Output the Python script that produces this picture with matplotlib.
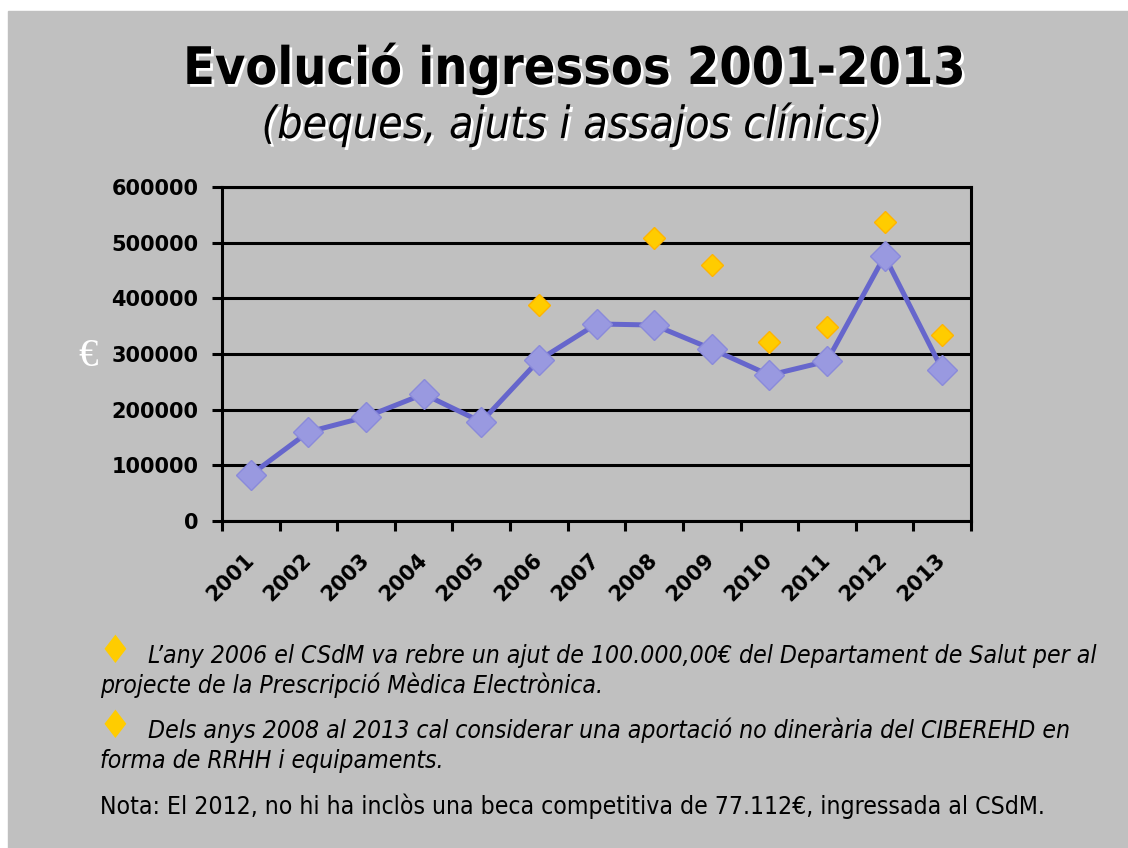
import numpy as np
import matplotlib
matplotlib.use("Agg")
import matplotlib.pyplot as plt
import matplotlib.patheffects as pe
from matplotlib import font_manager
from matplotlib.font_manager import FontProperties
from matplotlib.patches import Rectangle

years = [str(y) for y in range(2001, 2014)]
ingressos = [83000, 160000, 187000, 228000, 178000, 289000, 354000,
             352000, 309000, 262000, 287000, 476000, 272000]
extra_years = ["2006", "2008", "2009", "2010", "2011", "2012", "2013"]
extra_vals = [388000, 508000, 459000, 322000, 348000, 537000, 334000]
yticks = [0, 100000, 200000, 300000, 400000, 500000, 600000]

title = "Evolució ingressos 2001-2013"
subtitle = "(beques, ajuts i assajos clínics)"
note_lines = [
    "L\u2019any 2006 el CSdM va rebre un ajut de 100.000,00\u20ac del Departament de Salut per al",
    "projecte de la Prescripció Mèdica Electrònica.",
    "Dels anys 2008 al 2013 cal considerar una aportació no dinerària del CIBEREHD en",
    "forma de RRHH i equipaments.",
]
nota = "Nota: El 2012, no hi ha inclòs una beca competitiva de 77.112\u20ac, ingressada al CSdM."

W, H = 1128, 848
GRAY = "#C0C0C0"


def narrow_font(style_key, weight, style):
    # look for a condensed / narrow face on disk, fall back to DejaVu Sans
    for f in font_manager.fontManager.ttflist:
        base = f.fname.rsplit("/", 1)[-1].replace(".ttf", "")
        if ("Condensed" in base or "Narrow" in base) and base.endswith(style_key):
            return FontProperties(fname=f.fname)
    return FontProperties(family="DejaVu Sans", weight=weight, style=style)


FP_BOLD = narrow_font("Condensed-Bold", "bold", "normal")
FP_ITAL = narrow_font("Condensed-Oblique", "normal", "italic")
FP_REG = narrow_font("SansCondensed", "normal", "normal")


def px(x, y):
    return x / W, 1 - y / H


def fit_width(t, width_px, renderer):
    w = t.get_window_extent(renderer).width
    t.set_fontsize(t.get_fontsize() * width_px / w)
    return t.get_fontsize()


fig = plt.figure(figsize=(W / 100, H / 100), dpi=100)
fig.patch.set_facecolor("white")
fig.patches.append(Rectangle(px(8, H), 1 - 8 / W, 1 - 11 / H,
                             transform=fig.transFigure, color=GRAY, zorder=-10))

ax = fig.add_axes([222 / W, 1 - 521 / H, (971 - 222) / W, (521 - 187) / H])
ax.set_facecolor(GRAY)

x = np.arange(len(years))
ax.plot(x, ingressos, color="#6666CC", lw=3.6, marker="D", ms=15,
        mfc="#9999E0", mec="#8A8ADA", mew=1, zorder=3)
extra_x = [years.index(y) for y in extra_years]
ax.plot(extra_x, extra_vals, ls="none", marker="D", ms=11,
        mfc="#FFCC00", mec="#FFB400", mew=1, zorder=4)

ax.set_ylim(0, 600000)
ax.set_yticks(yticks)
ax.set_yticklabels([str(v) for v in yticks], fontweight="bold", fontsize=15)
ax.yaxis.grid(True, color="black", lw=2.2)
ax.set_axisbelow(True)
ax.tick_params(axis="y", length=7, width=2.2, pad=10)

ax.set_xlim(-0.5, len(years) - 0.5)
ax.set_xticks(np.arange(len(years) + 1) - 0.5)
ax.set_xticklabels([])
ax.set_xticks(x, minor=True)
ax.set_xticklabels(years, minor=True, rotation=45, ha="right", va="center",
                   rotation_mode="anchor", fontweight="bold", fontsize=15)
ax.tick_params(axis="x", which="major", length=7, width=2.2)
ax.tick_params(axis="x", which="minor", length=0, pad=26)
for s in ax.spines.values():
    s.set_linewidth(2.2)
    s.set_color("black")

fig.text(*px(88, 357), "\u20ac", color="white", fontsize=28,
         family="Liberation Serif", ha="center", va="center")

shadow = [pe.withSimplePatchShadow(offset=(2, -2), shadow_rgbFace="white", alpha=1)]
renderer = fig.canvas.get_renderer()

t = fig.text(*px(574, 84), title, ha="center", va="baseline", fontsize=40,
             fontproperties=FP_BOLD, path_effects=shadow)
fit_width(t, 782, renderer)
t = fig.text(*px(572, 138), subtitle, ha="center", va="baseline", fontsize=30,
             fontproperties=FP_ITAL, path_effects=shadow)
fit_width(t, 620, renderer)

t = fig.text(*px(148, 663), note_lines[0], ha="left", va="baseline",
             fontsize=16, fontproperties=FP_ITAL)
fs = fit_width(t, 952, renderer)
for (xl, yb), line in zip([(100, 693), (148, 738), (100, 768)], note_lines[1:]):
    t2 = fig.text(*px(xl, yb), line, ha="left", va="baseline", fontproperties=FP_ITAL)
    t2.set_fontsize(fs)
for yb in (652, 727):
    fig.text(*px(115, yb), "\u2666", color="#FFCC00", fontsize=28,
             family="DejaVu Sans", ha="center", va="center")
t = fig.text(*px(100, 814), nota, ha="left", va="baseline", fontsize=16,
             fontproperties=FP_REG)
fit_width(t, 950, renderer)

fig.savefig("out.png", dpi=100)
